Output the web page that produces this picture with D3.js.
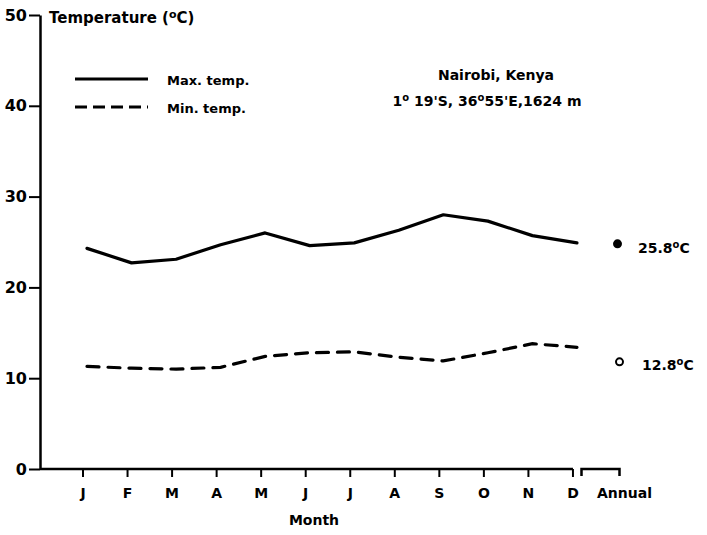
<!DOCTYPE html>
<html>
<head>
<meta charset="utf-8">
<script src="https://cdn.jsdelivr.net/npm/d3@7"></script>
<style>
  body { margin: 0; background: #fff; }
  text { font-family: "DejaVu Sans", sans-serif; font-weight: bold; fill: #000; }
</style>
</head>
<body>
<script>
// values
var months = ["J", "F", "M", "A", "M", "J", "J", "A", "S", "O", "N", "D"];
var maxTemp = [24.3, 22.7, 23.1, 24.7, 26.0, 24.6, 24.9, 26.3, 28.0, 27.3, 25.7, 24.9];
var minTemp = [11.3, 11.1, 11.0, 11.2, 12.4, 12.8, 12.9, 12.3, 11.9, 12.8, 13.8, 13.4];
var annualMax = 24.8, annualMin = 11.8;
var annualLabels = ["25.8", "12.8"];
var yTicks = [0, 10, 20, 30, 40, 50];

var width = 707, height = 535;

var svg = d3.select("body").append("svg")
    .attr("width", width)
    .attr("height", height);

// month keys need to be unique for the point scale
var keys = months.map(function(m, i) { return i; }).concat(["Annual"]);

var x = d3.scalePoint()
    .domain(keys)
    .range([83, 617.5]);

var y = d3.scaleLinear()
    .domain([0, 50])
    .range([469, 15]);

// y axis
var yAxis = svg.append("g")
    .attr("transform", "translate(40,0)")
    .call(d3.axisLeft(y).tickValues(yTicks).tickSize(11).tickPadding(2).tickSizeOuter(0));
yAxis.select(".domain").attr("stroke", "#000").attr("stroke-width", 2.5);
yAxis.selectAll(".tick line").attr("stroke", "#000").attr("stroke-width", 2);
yAxis.selectAll(".tick text")
    .style("font-size", "16px")
    .style("font-weight", "bold")
    .style("font-family", "'DejaVu Sans', sans-serif")
    .attr("fill", "#000");

// x axis: months line plus a separate bracket for the annual value
var monthKeys = keys.slice(0, 12);
svg.append("line")
    .attr("x1", 40).attr("x2", x(11))
    .attr("y1", y(0)).attr("y2", y(0))
    .attr("stroke", "#000").attr("stroke-width", 2.5);

svg.selectAll(".mtick")
    .data(monthKeys)
    .enter().append("line")
    .attr("class", "mtick")
    .attr("x1", function(d) { return x(d); })
    .attr("x2", function(d) { return x(d); })
    .attr("y1", y(0))
    .attr("y2", y(0) + 8)
    .attr("stroke", "#000").attr("stroke-width", 2);

svg.append("path")
    .attr("d", "M" + (x("Annual") - 36) + "," + (y(0) + 7) + "V" + y(0) + "H" + (x("Annual") + 2) + "V" + (y(0) + 7))
    .attr("fill", "none").attr("stroke", "#000").attr("stroke-width", 2.5);

svg.selectAll(".mlabel")
    .data(keys)
    .enter().append("text")
    .attr("class", "mlabel")
    .attr("x", function(d) { return d === "Annual" ? x(d) + 7 : x(d); })
    .attr("y", 498)
    .attr("text-anchor", "middle")
    .style("font-size", "14px")
    .text(function(d) { return d === "Annual" ? "Annual" : months[d]; });

svg.append("text")
    .attr("x", 314).attr("y", 525)
    .attr("text-anchor", "middle")
    .style("font-size", "14px")
    .text("Month");

// y title
var title = svg.append("text")
    .attr("x", 49).attr("y", 23)
    .style("font-size", "15px")
    .text("Temperature (");
title.append("tspan").attr("dy", -5).style("font-size", "11px").text("o");
title.append("tspan").attr("dy", 5).text("C)");

// lines
var line = d3.line()
    .x(function(d, i) { return x(i) + 4; })
    .y(function(d) { return y(d); });

svg.append("path")
    .datum(maxTemp)
    .attr("d", line)
    .attr("fill", "none")
    .attr("stroke", "#000")
    .attr("stroke-width", 3.2)
    .attr("stroke-linejoin", "round")
    .attr("stroke-linecap", "round");

svg.append("path")
    .datum(minTemp)
    .attr("d", line)
    .attr("fill", "none")
    .attr("stroke", "#000")
    .attr("stroke-width", 3.2)
    .attr("stroke-dasharray", "12,9")
    .attr("stroke-linecap", "round");

// annual markers
svg.append("circle")
    .attr("cx", x("Annual")).attr("cy", y(annualMax))
    .attr("r", 4.5).attr("fill", "#000");
svg.append("circle")
    .attr("cx", x("Annual") + 2).attr("cy", y(annualMin))
    .attr("r", 3.5).attr("fill", "#fff").attr("stroke", "#000").attr("stroke-width", 2);

[[annualLabels[0], 638, y(annualMax) + 9], [annualLabels[1], 642, y(annualMin) + 8]].forEach(function(a) {
    var t = svg.append("text").attr("x", a[1]).attr("y", a[2]).style("font-size", "14px").text(a[0]);
    t.append("tspan").attr("dy", -5).style("font-size", "10px").text("o");
    t.append("tspan").attr("dy", 5).text("C");
});

// legend
var legend = svg.append("g");
legend.append("line")
    .attr("x1", 75).attr("x2", 148).attr("y1", 79).attr("y2", 79)
    .attr("stroke", "#000").attr("stroke-width", 3);
legend.append("line")
    .attr("x1", 75).attr("x2", 148).attr("y1", 107).attr("y2", 107)
    .attr("stroke", "#000").attr("stroke-width", 3)
    .attr("stroke-dasharray", "12,6");
legend.append("text").attr("x", 167).attr("y", 85).style("font-size", "13px").text("Max. temp.");
legend.append("text").attr("x", 167).attr("y", 113).style("font-size", "13px").text("Min. temp.");

// station
svg.append("text")
    .attr("x", 496).attr("y", 80)
    .attr("text-anchor", "middle")
    .style("font-size", "14px")
    .text("Nairobi, Kenya");
var st = svg.append("text")
    .attr("x", 487).attr("y", 106)
    .attr("text-anchor", "middle")
    .style("font-size", "14px")
    .text("1");
st.append("tspan").attr("dy", -5).style("font-size", "10px").text("o");
st.append("tspan").attr("dy", 5).text(" 19'S, 36");
st.append("tspan").attr("dy", -5).style("font-size", "10px").text("o");
st.append("tspan").attr("dy", 5).text("55'E,1624 m");
</script>
</body>
</html>
